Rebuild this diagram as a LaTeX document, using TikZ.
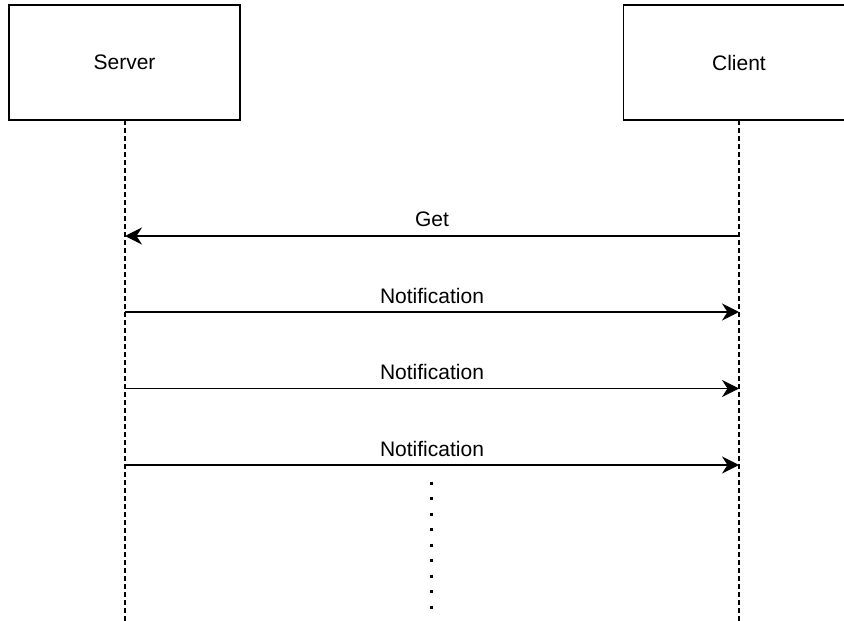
\documentclass[tikz,border=0pt]{standalone}
\usepackage{fontspec}
\setmainfont{Liberation Sans}
\usetikzlibrary{arrows.meta}
\begin{document}
\begin{tikzpicture}[x=1pt,y=-1pt,
  actor/.style={draw=black, line width=1.5pt, fill=white, minimum width=231pt,
    minimum height=115pt, inner sep=0pt, font=\fontsize{21}{25}\selectfont},
  lifeline/.style={draw=black, line width=1.5pt, dash pattern=on 5pt off 3pt},
  msg/.style={draw=black, line width=1.5pt,
    -{Stealth[length=17pt, width=17pt, inset=5.5pt]}},
  msglabel/.style={midway, anchor=center, yshift=16.5pt, inner sep=0pt,
    font=\fontsize{21}{25}\selectfont},
  ellipsisdots/.style={draw=black, line width=3pt, dash pattern=on 3pt off 12.5pt}]
  \clip (0,0) rectangle (844,621);
  \fill[white] (0,0) rectangle (844,621);

  % lifeline ends
  \coordinate (sEnd) at (125,621);
  \coordinate (cEnd) at (739,621);

  % lifelines
  \draw[lifeline] (125,120) -- (sEnd);
  \draw[lifeline] (739,120) -- (cEnd);

  % participants
  \node[actor] (server) at (124.5,62.5) {Server};
  \node[actor] (client) at (739,62.5) {Client};

  % message anchor points on the lifelines
  \coordinate (s1) at (125,236);  \coordinate (c1) at (739,236);
  \coordinate (s2) at (125,312);  \coordinate (c2) at (739,312);
  \coordinate (s3) at (125,388.5);\coordinate (c3) at (739,388.5);
  \coordinate (s4) at (125,465);  \coordinate (c4) at (739,465);

  % messages
  \draw[msg] (c1) -- (s1) node[msglabel] {Get};
  \draw[msg] (s2) -- (c2) node[msglabel] {Notification};
  \draw[msg] (s3) -- (c3) node[msglabel] {Notification};
  \draw[msg] (s4) -- (c4) node[msglabel] {Notification};

  % continuation dots
  \coordinate (dTop) at (431,481.5);
  \coordinate (dBot) at (431,610);
  \draw[ellipsisdots] (dTop) -- (dBot);
\end{tikzpicture}
\end{document}
